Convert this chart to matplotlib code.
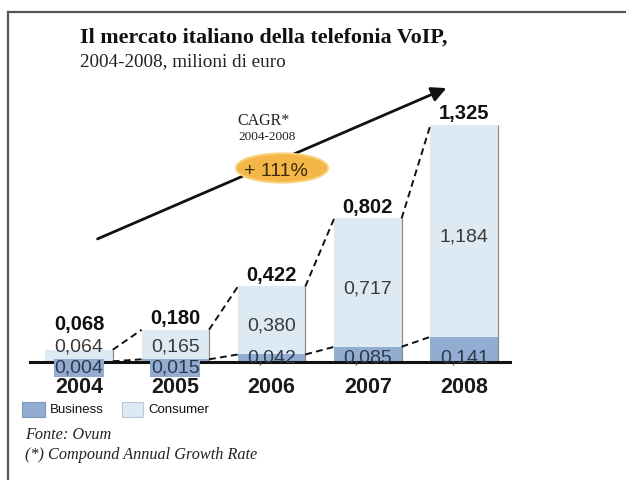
import matplotlib
matplotlib.use('Agg')
import matplotlib.pyplot as plt
from matplotlib.patches import Ellipse, Rectangle, FancyArrowPatch
from matplotlib.lines import Line2D
import numpy as np

# ---------------- data ----------------
years = ['2004', '2005', '2006', '2007', '2008']
business = [0.004, 0.015, 0.042, 0.085, 0.141]
consumer = [0.064, 0.165, 0.380, 0.717, 1.184]
totals = [0.068, 0.180, 0.422, 0.802, 1.325]
series_names = ['Business', 'Consumer']
title = 'Il mercato italiano della telefonia VoIP,'
subtitle = '2004-2008, milioni di euro'
cagr_label = 'CAGR*'
cagr_period = '2004-2008'
cagr_value = '+ 111%'
source_note = 'Fonte: Ovum'
star_note = '(*) Compound Annual Growth Rate'

BUS = '#92acd2'
CON = '#dde9f3'
SANS = ['Liberation Sans', 'DejaVu Sans']
SERIF = ['Liberation Serif', 'DejaVu Serif']


def fmt(v):
    return f'{v:.3f}'.replace('.', ',')


W, H = 626, 480
fig = plt.figure(figsize=(W / 100, H / 100), dpi=100)
fig.patch.set_facecolor('white')


def fx(px):
    return px / W


def fy(py):
    return 1 - py / H


# axes spanning the whole figure, scaled so bars sit where they do in the reference
X0, DX = 79, 96.3        # first bar centre (px), bar spacing (px)
BASE, SCALE = 362, 179   # baseline (px from top), px per unit
ax = fig.add_axes([0, 0, 1, 1])
ax.set_xlim((0 - X0) / DX, (W - X0) / DX)
ax.set_ylim((BASE - H) / SCALE, BASE / SCALE)
ax.axis('off')

x = np.arange(len(years))
bw = 0.70
ax.bar(x, business, bw, color=BUS, zorder=2, linewidth=0)
ax.bar(x, consumer, bw, bottom=business, color=CON, zorder=2, linewidth=0)
ax.vlines(x + bw / 2, 0, totals, color='#8c8c8c', lw=0.9, zorder=3)

# dashed connectors
for i in range(len(x) - 1):
    ax.plot([x[i] + bw / 2, x[i + 1] - bw / 2], [totals[i], totals[i + 1]],
            ls=(0, (3.5, 2.2)), color='#111111', lw=1.4, zorder=4)
    ax.plot([x[i] + bw / 2, x[i + 1] - bw / 2], [business[i], business[i + 1]],
            ls=(0, (3.5, 2.2)), color='#111111', lw=1.4, zorder=4)

# baseline
ax.axhline(0, xmin=30 / W, xmax=510 / W, color='#111111', lw=2.2, zorder=5)

for i in x:
    ax.text(i, max(totals[i] + 0.062, 0.21), fmt(totals[i]), ha='center', va='center',
            fontsize=14.5, fontweight='bold', family=SANS, color='#111111', zorder=7)
    ycon = max(business[i] + consumer[i] / 2 - 0.033, 0.084)
    ax.text(i, ycon, fmt(consumer[i]), ha='center', va='center',
            fontsize=14, family=SANS, color='#3a3a3a', zorder=7)
    small = business[i] < 0.03
    ax.text(i, -0.034 if small else 0.022, fmt(business[i]), ha='center', va='center',
            fontsize=14, family=SANS, color='#2e3a4a', zorder=6,
            bbox=dict(facecolor=BUS, edgecolor='none', pad=0.6) if small else None)
    ax.text(i, -0.142, years[i], ha='center', va='center', fontsize=15.5,
            fontweight='bold', family=SANS, color='#1a1a1a', zorder=7)

# frame (left and top edges)
fig.add_artist(Line2D([fx(8), fx(8)], [fy(12), 0], transform=fig.transFigure,
                      color='#555555', lw=1.6))
fig.add_artist(Line2D([fx(8), 1], [fy(12), fy(12)], transform=fig.transFigure,
                      color='#555555', lw=1.6))

# titles
fig.text(fx(80), fy(38), title, ha='left', va='center', fontsize=15.8,
         fontweight='bold', family=SERIF, color='#111111')
fig.text(fx(80), fy(62), subtitle, ha='left', va='center', fontsize=13.8,
         family=SERIF, color='#222222')

# growth arrow
arr = FancyArrowPatch((fx(95), fy(240)), (fx(449), fy(87)), transform=fig.transFigure,
                      arrowstyle='-|>', mutation_scale=22, lw=2.0, color='#111111',
                      zorder=3)
fig.add_artist(arr)

ell = Ellipse((fx(282), fy(168)), 92 / W, 29 / H, transform=fig.transFigure,
              facecolor='#f4b747', edgecolor='#f8cf7a', lw=1.5, zorder=4)
fig.add_artist(ell)
fig.text(fx(276), fy(172), cagr_value, ha='center', va='center', fontsize=14,
         family=SANS, color='#3d2a08', zorder=5)
fig.text(fx(263), fy(121), cagr_label, ha='center', va='center', fontsize=11.5,
         family=SERIF, color='#222222')
fig.text(fx(267), fy(137), cagr_period, ha='center', va='center', fontsize=9.5,
         family=SERIF, color='#222222')

# legend
fig.add_artist(Rectangle((fx(22), fy(417)), 23 / W, 15 / H, transform=fig.transFigure,
                         facecolor=BUS, edgecolor='#7d97bd', lw=0.8))
fig.text(fx(50), fy(410), series_names[0], ha='left', va='center', fontsize=9.5,
         family=SANS, color='#111111')
fig.add_artist(Rectangle((fx(122), fy(417)), 21 / W, 15 / H, transform=fig.transFigure,
                         facecolor=CON, edgecolor='#b9c8d6', lw=0.8))
fig.text(fx(148), fy(410), series_names[1], ha='left', va='center', fontsize=9.5,
         family=SANS, color='#111111')

# notes
fig.text(fx(25), fy(435), source_note, ha='left', va='center', fontsize=11.7,
         style='italic', family=SERIF, color='#222222')
fig.text(fx(25), fy(455), star_note, ha='left', va='center', fontsize=11.7,
         style='italic', family=SERIF, color='#222222')

fig.savefig('out.png', dpi=100, facecolor='white')
